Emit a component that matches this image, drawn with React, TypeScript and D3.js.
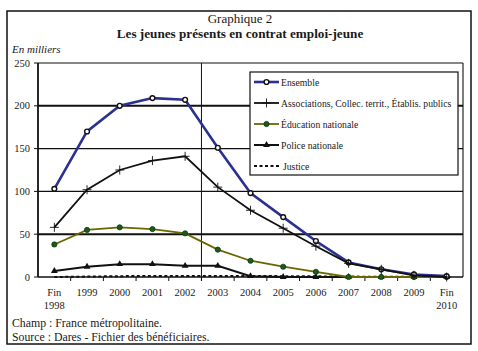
import { useEffect, useRef } from "react";
import * as d3 from "d3";

const years = ["Fin 1998", "1999", "2000", "2001", "2002", "2003", "2004", "2005", "2006", "2007", "2008", "2009", "Fin 2010"];
const ensemble = [103, 170, 200, 209, 207, 151, 98, 70, 42, 17, 9, 3, 1];
const associations = [58, 102, 125, 136, 141, 105, 78, 57, 36, 16, 9, 2, 0];
const education = [38, 55, 58, 56, 51, 32, 19, 12, 6, 0, 0, 0, 0];
const police = [7, 12, 15, 15, 13, 13, 1, 0, 0, 0, 0, 0, 0];
const justice = [0, 0.5, 1, 1.2, 1.3, 1.3, 1.2, 1, 0.8, 0.5, 0.3, 0.1, 0];
const yTicks = [0, 50, 100, 150, 200, 250];

const BLUE = "#2b3190";
const OLIVE = "#6b6600";
const GREEN = "#1e5a1e";
const FONT = "Liberation Serif";

const series = [
  { name: "Ensemble", values: ensemble, color: BLUE, width: 2.6, marker: "circle", dash: null },
  { name: "Associations, Collec. territ., Établis. publics", values: associations, color: "#111", width: 1.8, marker: "plus", dash: null },
  { name: "Éducation nationale", values: education, color: OLIVE, width: 1.8, marker: "dot", dash: null },
  { name: "Police nationale", values: police, color: "#111", width: 2, marker: "triangle", dash: null },
  { name: "Justice", values: justice, color: "#111", width: 2, marker: "none", dash: "3,2.5" },
];

export default function App() {
  const svgRef = useRef<SVGSVGElement>(null);

  useEffect(() => {
    const svg = d3.select(svgRef.current);
    svg.selectAll("*").remove();

    const left = 38, right = 463, top = 63, bottom = 277;
    const x = d3.scaleBand().domain(years).range([left, right]).padding(0);
    const y = d3.scaleLinear().domain([0, 250]).range([bottom, top]);
    const cx = (d: string) => (x(d) as number) + x.bandwidth() / 2;

    const txt = (parent: any, px: number, py: number, s: string, size: number) =>
      parent.append("text").attr("x", px).attr("y", py).attr("font-family", FONT)
        .attr("font-size", size).attr("fill", "#1a1a1a").text(s);

    // outer frame
    svg.append("rect").attr("x", 7).attr("y", 11).attr("width", 464).attr("height", 333)
      .attr("fill", "white").attr("stroke", "#111").attr("stroke-width", 1.5);

    txt(svg, 240, 23, "Graphique 2", 13).attr("text-anchor", "middle");
    txt(svg, 240, 38, "Les jeunes présents en contrat emploi-jeune", 13.2)
      .attr("text-anchor", "middle").attr("font-weight", "bold");
    txt(svg, 12, 53, "En milliers", 11).attr("font-style", "italic");

    // gridlines
    yTicks.filter((t) => t > 0).forEach((t) => {
      svg.append("line").attr("x1", left).attr("x2", right).attr("y1", y(t)).attr("y2", y(t))
        .attr("stroke", "#111").attr("stroke-width", t === 200 || t === 50 ? 2 : 1.1);
    });
    // plot right border and separator
    svg.append("line").attr("x1", right).attr("x2", right).attr("y1", top).attr("y2", bottom)
      .attr("stroke", "#111").attr("stroke-width", 1.1);
    const sep = x("2003") as number;
    svg.append("line").attr("x1", sep).attr("x2", sep).attr("y1", top).attr("y2", bottom + 4)
      .attr("stroke", "#111").attr("stroke-width", 1);

    // y axis
    svg.append("line").attr("x1", left).attr("x2", left).attr("y1", top).attr("y2", bottom)
      .attr("stroke", "#111").attr("stroke-width", 1.8);
    yTicks.forEach((t) => {
      svg.append("line").attr("x1", left - 4).attr("x2", left).attr("y1", y(t)).attr("y2", y(t))
        .attr("stroke", "#111").attr("stroke-width", 1);
      txt(svg, left - 8, y(t) + 3.5, String(t), 10.5).attr("text-anchor", "end");
    });

    // x axis
    svg.append("line").attr("x1", left).attr("x2", right).attr("y1", bottom).attr("y2", bottom)
      .attr("stroke", "#111").attr("stroke-width", 1.5);
    years.forEach((yr, i) => {
      const bx = x(yr) as number;
      if (i > 0) {
        svg.append("line").attr("x1", bx).attr("x2", bx).attr("y1", bottom).attr("y2", bottom + 4)
          .attr("stroke", "#111").attr("stroke-width", 1);
      }
      yr.split(" ").forEach((p, j) => {
        txt(svg, cx(yr), 296 + j * 13, p, 10.5).attr("text-anchor", "middle");
      });
    });

    const drawMarker = (g: any, kind: string, px: number, py: number) => {
      if (kind === "circle") {
        g.append("circle").attr("cx", px).attr("cy", py).attr("r", 2.4)
          .attr("fill", "white").attr("stroke", "#111").attr("stroke-width", 1.4);
      } else if (kind === "plus") {
        g.append("path").attr("d", `M${px - 4.5},${py}H${px + 4.5}M${px},${py - 4.5}V${py + 4.5}`)
          .attr("stroke", "#111").attr("stroke-width", 0.9).attr("fill", "none");
      } else if (kind === "dot") {
        g.append("circle").attr("cx", px).attr("cy", py).attr("r", 2.6)
          .attr("fill", GREEN).attr("stroke", "#0d3a0d").attr("stroke-width", 0.8);
      } else if (kind === "triangle") {
        g.append("path").attr("d", d3.symbol().type(d3.symbolTriangle).size(20)())
          .attr("transform", `translate(${px},${py})`).attr("fill", "#111");
      }
    };

    const line = d3.line<number>().x((_, i) => cx(years[i])).y((v) => y(v));
    // back-to-front order
    [4, 3, 2, 0, 1].forEach((si) => {
      const s = series[si];
      const g = svg.append("g");
      g.append("path").attr("d", line(s.values)).attr("fill", "none")
        .attr("stroke", s.color).attr("stroke-width", s.width)
        .attr("stroke-dasharray", s.dash ?? null);
      s.values.forEach((v, i) => drawMarker(g, s.marker, cx(years[i]), y(v)));
    });

    // legend
    const lg = svg.append("g");
    lg.append("rect").attr("x", 250).attr("y", 72).attr("width", 208).attr("height", 103)
      .attr("fill", "white").attr("stroke", "#111").attr("stroke-width", 1.2);
    series.forEach((s, i) => {
      const ly = 82 + i * 21;
      lg.append("line").attr("x1", 254).attr("x2", 279).attr("y1", ly).attr("y2", ly)
        .attr("stroke", s.color).attr("stroke-width", s.width)
        .attr("stroke-dasharray", s.dash ?? null);
      drawMarker(lg, s.marker, 266.5, ly);
      txt(lg, s.dash ? 283 : 281, ly + 3.5, s.name, 9.7);
    });

    txt(svg, 12, 327, "Champ : France métropolitaine.", 11.8);
    txt(svg, 12, 341, "Source : Dares - Fichier des bénéficiaires.", 11.8);
  }, []);

  return (
    <svg ref={svgRef} width={478} height={351}
      style={{ position: "absolute", left: 0, top: 0, background: "white" }} />
  );
}
